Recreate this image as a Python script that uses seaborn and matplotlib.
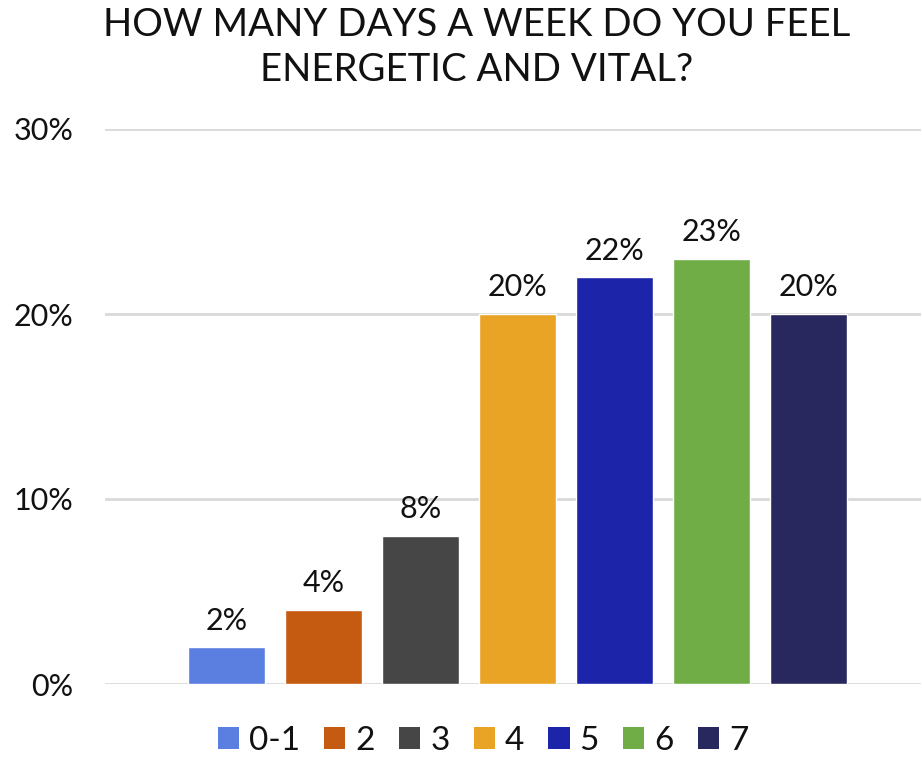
import matplotlib
matplotlib.use("Agg")
import matplotlib.pyplot as plt
from matplotlib.patches import Patch
import seaborn as sns
import pandas as pd

categories = ["0-1", "2", "3", "4", "5", "6", "7"]
values = [0.02, 0.04, 0.08, 0.20, 0.22, 0.23, 0.20]
labels = ["2%", "4%", "8%", "20%", "22%", "23%", "20%"]
colors = ["#5B7FE0", "#C55A11", "#464646", "#EAA425", "#1C25AA", "#70AD47", "#28285E"]
yticks = [0, 0.10, 0.20, 0.30]
yticklabels = ["0%", "10%", "20%", "30%"]
title = "HOW MANY DAYS A WEEK DO YOU FEEL\nENERGETIC AND VITAL?"

sns.set_theme(style="white")
plt.rcParams["font.family"] = ["Lato", "DejaVu Sans"]

df = pd.DataFrame({"days": categories, "share": values})

W, H = 922, 763
fig = plt.figure(figsize=(W / 100, H / 100), dpi=100)
ax = fig.add_axes([105 / W, (H - 684) / H, (921 - 105) / W, (684 - 129) / H])

sns.barplot(data=df, x="days", y="share", hue="days", palette=colors,
            order=categories, hue_order=categories, width=0.79,
            legend=False, ax=ax, saturation=1)

ax.set_ylim(0, 0.30)
ax.set_xlim(-1.253, 7.16)
ax.set_yticks(yticks)
ax.set_yticklabels(yticklabels, fontsize=22, color="#111111")
ax.set_xticks([])
ax.set_xlabel("")
ax.set_ylabel("")
ax.yaxis.grid(True, color="#D9D9D9", linewidth=2)
ax.set_axisbelow(True)
for s in ax.spines.values():
    s.set_visible(False)
ax.tick_params(axis="y", length=0, pad=23)

for i, (v, lab) in enumerate(zip(values, labels)):
    ax.annotate(lab, (i, v), xytext=(0, 9), textcoords="offset points",
                ha="center", va="bottom", fontsize=22, color="#111111")

fig.text(477 / W, 1 - 7 / H, title, ha="center", va="top", fontsize=27.6,
         color="#111111", linespacing=1.3)

handles = [Patch(facecolor=c, edgecolor="none") for c in colors]
fig.legend(handles, categories, loc="lower center", bbox_to_anchor=(483 / W, -0.03),
           ncol=7, frameon=False, fontsize=24, handlelength=0.64, handleheight=0.64,
           handletextpad=0.3, columnspacing=0.72, labelcolor="#111111")

fig.savefig("out.png", dpi=100)
